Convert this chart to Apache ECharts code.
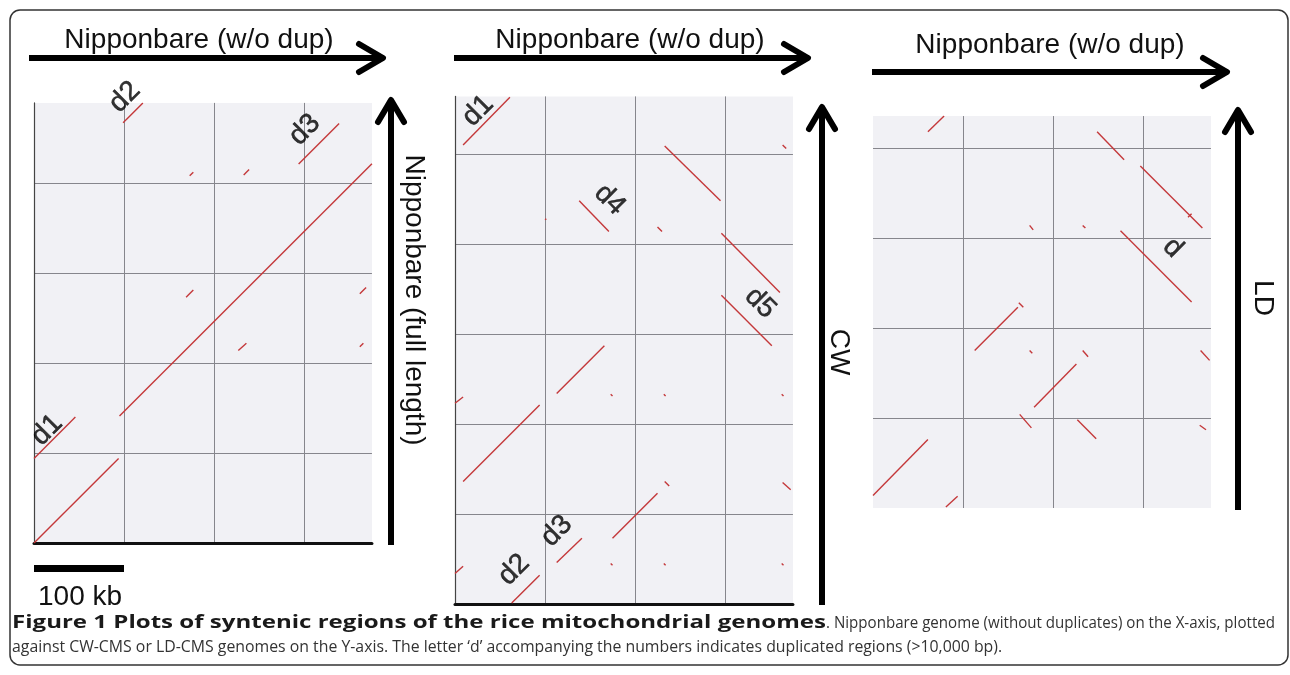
<!DOCTYPE html>
<html><head><meta charset="utf-8">
<script src="https://cdn.jsdelivr.net/npm/echarts@6/dist/echarts.min.js"></script>
<style>html,body{margin:0;padding:0;background:#fff}#c{width:1290px;height:675px}</style>
</head><body><div id="c"></div>
<script>
// ---------------- DATA (kb) ----------------
const genomeLengthsKb = { nipponbareNoDup: 375.5, nipponbareFull: 489, cw: 564, ld: 435.5 };
const gridStepKb = 100;
const xTitle = 'Nipponbare (w/o dup)';
const yTitles = ['Nipponbare (full length)', 'CW', 'LD'];
const scaleBarKb = 100;
const scaleBarLabel = '100 kb';

// syntenic segments [x1, y1, x2, y2] in kb
const p1Segments = [
  [0,0,94,94],[0,94,46,140],[95,141,375.5,421.5],[99,467,121,489],[294,421,339,466],
  [173,408,177,412],[233,409,239,415],[169,273,177,281],[362,277,369,284],
  [227,214,236,222],[362,218,366,222]
];
const p2Segments = [
  [9,510,61,563],[233,509,295,448],[364,510,368,506],[138,448,171,414],[225,419,230,414],
  [100,428,101.5,427],[296,412,361,346],[296,343,352,287],[113,234,166,287],[0,223,9,230],
  [9,136,94,221],[173,233,175,231],[232,233,234,231],[363,233,365,231],[233,136,238,131],
  [364,135,373,127],[175,73,225,123],[113,46,141,73],[63,1,94,32],[0,34,9,42],
  [173,45,175,43],[232,45,234,43],[363,45,365,43]
];
const p3Segments = [
  [61,418,79,435.5],[249,418,279,387],[297,380,366,311],[350,323,354,327],[174,314,178,309],
  [233,314,236,311],[275,308,354,229],[113,175,161,223],[162,228,167,223],[174,175,177,172],
  [233,175,239,168],[364,175,374,164],[179,112,226,160],[163,104,176,89],[227,98,248,77],
  [363,92,370,87],[0,14,61,76],[81,1,94,13]
];
// duplicated-region labels [text, x, y] in kb
const p1Labels = [['d2',101,495.5],['d3',301,459],['d1',14.5,125.5]];
const p2Labels = [['d1',25.5,548],['d4',172,449],['d5',339,334.5],['d3',113,81],['d2',65.5,38]];
const p3Labels = [['d',333,289]];

const caption1Bold = 'Figure 1 Plots of syntenic regions of the rice mitochondrial genomes';
const caption1Rest = '. Nipponbare genome (without duplicates) on the X-axis, plotted';
const caption2 = 'against CW-CMS or LD-CMS genomes on the Y-axis. The letter \u2018d\u2019 accompanying the numbers indicates duplicated regions (>10,000 bp).';

// ---------------- LAYOUT / STYLE ----------------
const PPK = 0.9; // pixels per kb
const panels = [
  { left: 34, bottom: 543, xLen: genomeLengthsKb.nipponbareNoDup, yLen: genomeLengthsKb.nipponbareFull, axes: true, segs: p1Segments, labels: p1Labels },
  { left: 455, bottom: 604, xLen: genomeLengthsKb.nipponbareNoDup, yLen: genomeLengthsKb.cw, axes: true, segs: p2Segments, labels: p2Labels },
  { left: 873, bottom: 508, xLen: genomeLengthsKb.nipponbareNoDup, yLen: genomeLengthsKb.ld, axes: false, segs: p3Segments, labels: p3Labels }
];
const labelRot = { d1: 45, d2: 45, d3: 45, d4: -45, d5: -45, d: -45 };
const FONT = '"Liberation Sans", Arial, sans-serif';
const RED = '#c4383a';

const chart = echarts.init(document.getElementById('c'), null, { renderer: 'canvas' });

const grids = [], xAxes = [], yAxes = [], series = [];
panels.forEach((p, i) => {
  const w = p.xLen * PPK, h = p.yLen * PPK;
  grids.push({ left: p.left, top: p.bottom - h, width: w, height: h, show: true, backgroundColor: '#f1f1f5', borderWidth: 0 });
  const split = { show: true, showMinLine: false, showMaxLine: false, lineStyle: { color: '#86868c', width: 1 } };
  xAxes.push({ gridIndex: i, type: 'value', min: 0, max: p.xLen, interval: gridStepKb,
    axisLine: { show: p.axes, onZero: false, lineStyle: { color: '#111', width: 3 } },
    axisTick: { show: false }, axisLabel: { show: false }, splitLine: split });
  yAxes.push({ gridIndex: i, type: 'value', min: 0, max: p.yLen, interval: gridStepKb,
    axisLine: { show: p.axes, onZero: false, lineStyle: { color: '#444', width: 1.2 } },
    axisTick: { show: false }, axisLabel: { show: false }, splitLine: split });
  series.push({ type: 'lines', coordinateSystem: 'cartesian2d', xAxisIndex: i, yAxisIndex: i, silent: true,
    data: p.segs.map(s => ({ coords: [[s[0], s[1]], [s[2], s[3]]] })),
    lineStyle: { color: RED, width: 1.4, opacity: 1 }, z: 3 });
  series.push({ type: 'scatter', xAxisIndex: i, yAxisIndex: i, clip: false, silent: true, symbol: 'circle', symbolSize: 2,
    itemStyle: { color: 'rgba(0,0,0,0)' }, z: 4,
    data: p.labels.map(l => ({ value: [l[1], l[2]], label: { formatter: l[0], rotate: labelRot[l[0]] } })),
    label: { show: true, position: 'inside', color: '#000', fontSize: 28, fontFamily: FONT,
      textBorderColor: '#000', textBorderWidth: 0.5 } });
});

// arrows
const graphics = [];
function hArrow(x1, x2, y) {
  graphics.push({ type: 'line', shape: { x1: x1, y1: y, x2: x2 - 3, y2: y }, style: { stroke: '#000', lineWidth: 6 } });
  graphics.push({ type: 'polyline', shape: { points: [[x2 - 24, y - 14], [x2, y], [x2 - 24, y + 14]] },
    style: { stroke: '#000', lineWidth: 6, fill: null, lineCap: 'round', lineJoin: 'round' } });
}
function vArrow(x, yBottom, yTop) {
  graphics.push({ type: 'line', shape: { x1: x, y1: yBottom, x2: x, y2: yTop + 3 }, style: { stroke: '#000', lineWidth: 6 } });
  graphics.push({ type: 'polyline', shape: { points: [[x - 13, yTop + 22], [x, yTop], [x + 13, yTop + 22]] },
    style: { stroke: '#000', lineWidth: 6, fill: null, lineCap: 'round', lineJoin: 'round' } });
}
function txt(t, x, y, size, rot) {
  graphics.push({ type: 'text', x: x, y: y, rotation: rot || 0,
    style: { text: t, fontSize: size, fontFamily: FONT, fill: '#111', align: 'center', verticalAlign: 'middle' } });
}
hArrow(29, 383, 58); txt(xTitle, 199, 40, 28);
hArrow(454, 808, 58); txt(xTitle, 630, 40, 28);
hArrow(872, 1227, 72); txt(xTitle, 1050, 45, 28);
vArrow(391, 545, 100); txt(yTitles[0], 414, 300, 28, -Math.PI / 2);
vArrow(822, 605, 107); txt(yTitles[1], 839, 352, 28, -Math.PI / 2);
vArrow(1238, 510, 110); txt(yTitles[2], 1263, 298, 28, -Math.PI / 2);

// scale bar
graphics.push({ type: 'rect', shape: { x: panels[0].left, y: 565, width: scaleBarKb * PPK, height: 7 }, style: { fill: '#000' } });
graphics.push({ type: 'text', x: 38, y: 597, style: { text: scaleBarLabel, fontSize: 28, fontFamily: FONT, fill: '#111', align: 'left', verticalAlign: 'middle' } });

// border
graphics.push({ type: 'rect', shape: { x: 10, y: 10, width: 1278, height: 655, r: 10 }, style: { fill: null, stroke: '#333', lineWidth: 1.5 }, z: 0 });

// caption
const CAP_FONT = '"Open Sans", "Noto Sans", sans-serif';
const cv = document.createElement('canvas').getContext('2d');
cv.font = '16px ' + CAP_FONT;
const capSize = 16 * 991 / cv.measureText(caption2).width;
const BOLD_SIZE = 17;
cv.font = 'bold ' + BOLD_SIZE + 'px ' + CAP_FONT;
const boldScale = 814 / cv.measureText(caption1Bold).width;
cv.font = capSize + 'px ' + CAP_FONT;
const restScale = 449 / cv.measureText(caption1Rest).width;
graphics.push({ type: 'text', x: 12, y: 623, scaleX: boldScale, style: { text: caption1Bold, fontFamily: CAP_FONT, fontWeight: 'bold',
  fontSize: BOLD_SIZE, fill: '#1a1a1a', verticalAlign: 'middle', align: 'left' } });
graphics.push({ type: 'text', x: 826, y: 623, scaleX: restScale, style: { text: caption1Rest, fontFamily: CAP_FONT,
  fontSize: capSize, fill: '#333', verticalAlign: 'middle', align: 'left' } });
graphics.push({ type: 'text', x: 12, y: 647, style: { text: caption2, fontFamily: CAP_FONT, fontSize: capSize, fill: '#333', verticalAlign: 'middle', align: 'left' } });

chart.setOption({
  animation: false,
  backgroundColor: '#fff',
  grid: grids, xAxis: xAxes, yAxis: yAxes, series: series,
  graphic: { elements: graphics }
});
</script></body></html>
